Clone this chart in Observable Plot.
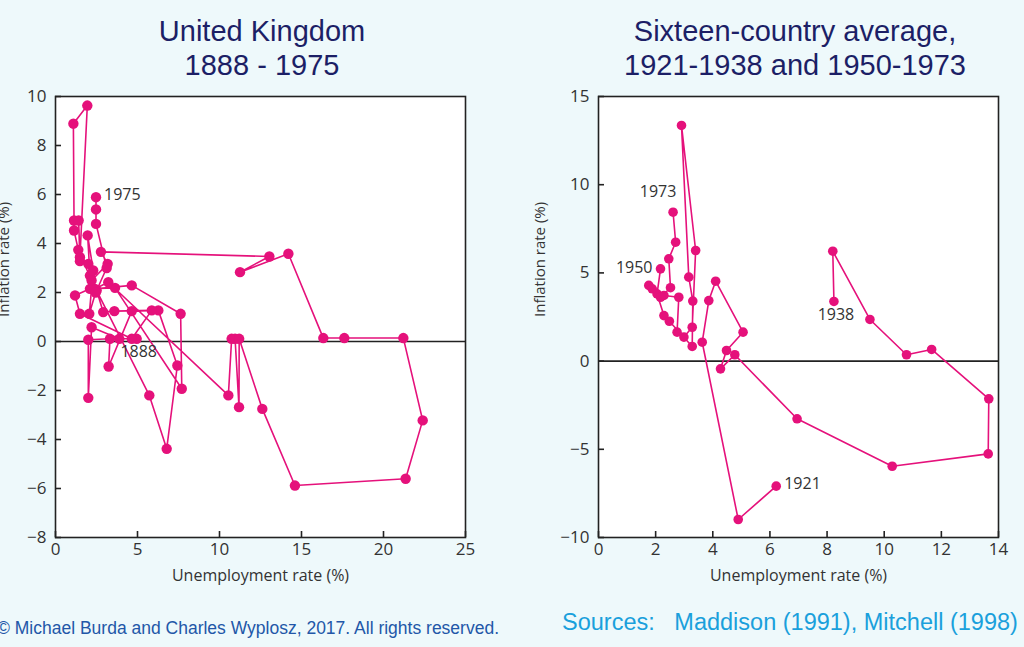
<!DOCTYPE html>
<html>
<head>
<meta charset="utf-8">
<script src="https://cdn.jsdelivr.net/npm/d3@7"></script>
<script src="https://cdn.jsdelivr.net/npm/@observablehq/plot@0.6"></script>
<style>
  html, body { margin: 0; padding: 0; }
  body { width: 1024px; height: 647px; background: #eef9fb; position: relative; overflow: hidden; font-family: "Liberation Sans", Arial, sans-serif; }
  .title { position: absolute; text-align: center; color: #1c1f66; font-size: 29px; line-height: 34px; white-space: nowrap; }
  .chart { position: absolute; }
  .foot1 { position: absolute; left: -3px; top: 618px; font-size: 17.5px; color: #2257a8; white-space: nowrap; }
  .foot2 { position: absolute; left: 562px; top: 609px; font-size: 23.5px; color: #1aa0dc; white-space: pre; }
</style>
</head>
<body>
<div class="title" style="left:62px; width:400px; top:14px;">United Kingdom<br>1888 - 1975</div>
<div class="title" style="left:575px; width:440px; top:14px;">Sixteen-country average,<br>1921-1938 and 1950-1973</div>
<div class="chart" id="left" style="left:0px; top:86px;"></div>
<div class="chart" id="right" style="left:540px; top:86px;"></div>
<div class="foot1">© Michael Burda and Charles Wyplosz, 2017. All rights reserved.</div>
<div class="foot2">Sources:   Maddison (1991), Mitchell (1998)</div>
<script>
// ---------- United Kingdom 1888-1975 (path order) ----------
const ukUnemp = [
  4.95, 3.89, 2.2, 2.0, 2.0, 3.32, 3.24, 4.65, 6.27, 7.43, 6.78, 5.72, 2.51, 2.91, 3.59, 5.87, 4.65, 1.49, 1.19, 2.1, 3.63, 7.7, 7.63, 4.65, 2.41, 3.22,
  10.54, 10.74, 10.95, 11.19, 11.2, 12.61, 14.6, 21.35, 22.39, 21.21, 17.61, 16.33, 14.2, 11.25, 13.04,
  2.77, 3.18, 2.2, 1.39, 1.13, 1.13, 1.09, 1.94, 1.49, 1.41, 1.49, 2.0, 2.1, 1.96, 2.3, 2.06, 2.45, 3.12, 2.47, 2.47, 2.47
];
const ukInfl = [
  0.11, 0.11, 0.58, -2.3, 0.07, 0.11, -1.02, 1.24, 1.27, -0.98, -4.38, -2.2, 2.08, 1.2, 1.24, 1.27, 0.11, 1.13, 1.88, 2.15, 2.19, -1.93, 1.13, 2.29, 2.15, 2.42,
  -2.2, 0.11, 0.11, -2.68, 0.11, -2.75, -5.88, -5.6, -3.22, 0.14, 0.14, 0.14, 3.58, 2.83, 3.47,
  3.66, 3.17, 2.49, 3.74, 4.53, 4.94, 8.89, 9.63, 3.44, 4.94, 3.28, 3.17, 2.69, 4.33, 2.9, 1.13, 2.0, 3.0, 4.80, 5.39, 5.89
];
const ukLabels = ["1888", "1975"];            // first and last year
const ukXTicks = [0, 5, 10, 15, 20, 25];
const ukYTicks = [-8, -6, -4, -2, 0, 2, 4, 6, 8, 10];

// ---------- Sixteen-country average ----------
const avgPeriods = ["1921-1938", "1950-1973"];
const avgUnemp1 = [6.22, 4.89, 3.63, 3.86, 4.10, 5.06, 4.48, 4.27, 4.77, 6.95, 10.28, 13.64, 13.66, 11.66, 10.78, 9.50, 8.20, 8.24];
const avgInfl1  = [-7.09, -8.98, 1.07, 3.43, 4.53, 1.64, 0.6, -0.44, 0.36, -3.27, -5.96, -5.26, -2.14, 0.66, 0.36, 2.36, 6.23, 3.38];
const avgUnemp2 = [2.17, 2.05, 2.29, 2.48, 3.28, 3.30, 3.16, 2.905, 3.40, 3.28, 2.99, 2.75, 2.81, 2.29, 1.76, 1.88, 2.17, 2.52, 2.46, 2.70, 2.61];
const avgInfl2  = [5.23, 3.81, 2.58, 2.26, 0.83, 3.40, 4.76, 13.36, 6.27, 1.92, 1.36, 1.64, 3.62, 3.72, 4.29, 4.1, 3.62, 4.16, 5.8, 6.74, 8.44];
const avgLabels = ["1921", "1938", "1950", "1973"];
const avgXTicks = [0, 2, 4, 6, 8, 10, 12, 14];
const avgYTicks = [-10, -5, 0, 5, 10, 15];

const xLabel = "Unemployment rate (%)";
const yLabel = "Inflation rate (%)";
const pink = "#e5117b";
const ink = "#333";

const uk = ukUnemp.map((u, i) => ({u, p: ukInfl[i]}));
const avg = [
  ...avgUnemp1.map((u, i) => ({u, p: avgInfl1[i], period: avgPeriods[0]})),
  ...avgUnemp2.map((u, i) => ({u, p: avgInfl2[i], period: avgPeriods[1]}))
];
const ukLab = [
  {...uk[0], t: ukLabels[0], pos: "below"},
  {...uk[uk.length - 1], t: ukLabels[1], pos: "right"}
];
const s1 = avg.filter(d => d.period === avgPeriods[0]);
const s2 = avg.filter(d => d.period === avgPeriods[1]);
const avgLab = [
  {...s1[0], t: avgLabels[0], pos: "right"},
  {...s1[s1.length - 1], t: avgLabels[1], pos: "below"},
  {...s2[0], t: avgLabels[2], pos: "left"},
  {...s2[s2.length - 1], t: avgLabels[3], pos: "aboveleft"}
];

function labelMarks(data) {
  const base = {x: "u", y: "p", text: "t", fill: ink, fontSize: 16, fontFamily: "Open Sans"};
  return [
    Plot.text(data.filter(d => d.pos === "right"), {...base, textAnchor: "start", dx: 8, dy: -2}),
    Plot.text(data.filter(d => d.pos === "left"), {...base, textAnchor: "end", dx: -8, dy: -1}),
    Plot.text(data.filter(d => d.pos === "below"), {...base, textAnchor: "middle", dx: 2, dy: 13}),
    Plot.text(data.filter(d => d.pos === "aboveleft"), {...base, textAnchor: "middle", dx: -15, dy: -20})
  ];
}

function makeChart({data, xDomain, yDomain, xTicks, yTicks, marginLeft, marginRight, r, z, labels, yLabelDx}) {
  const frameW = 480 - marginLeft - marginRight;
  const frameH = 520 - 10 - 69;
  return Plot.plot({
    width: 480, height: 520,
    marginLeft, marginRight, marginTop: 10, marginBottom: 69,
    x: {domain: xDomain},
    y: {domain: yDomain},
    style: {background: "transparent", fontSize: "17px", fontFamily: "Open Sans", color: ink, overflow: "visible"},
    marks: [
      Plot.frame({fill: "white", stroke: null}),
      Plot.ruleY([0], {stroke: "#222", strokeWidth: 1.6}),
      Plot.line(data, {x: "u", y: "p", z, stroke: pink, strokeWidth: 1.6}),
      Plot.dot(data, {x: "u", y: "p", r, fill: pink, stroke: null}),
      ...labelMarks(labels),
      // short inward tick marks
      Plot.tickX(xTicks, {x: d => d, stroke: "#222", strokeWidth: 1.6, insetTop: frameH - 6}),
      Plot.tickY(yTicks, {y: d => d, stroke: "#222", strokeWidth: 1.6, insetRight: frameW - 6}),
      Plot.axisX({ticks: xTicks, tickSize: 0, tickPadding: 5, tickFormat: d => d3.format("")(d), label: null, fontSize: 17}),
      Plot.axisY({ticks: yTicks, tickSize: 0, tickPadding: 9, tickFormat: d => d3.format("")(d), label: null, fontSize: 17}),
      Plot.frame({stroke: "#222", strokeWidth: 1.6}),
      Plot.text([xLabel], {frameAnchor: "bottom", dy: 43, fill: ink, fontSize: 16, fontFamily: "Open Sans"}),
      Plot.text([yLabel], {frameAnchor: "left", dx: yLabelDx, rotate: -90, fill: ink, fontSize: 15, fontFamily: "Open Sans"})
    ]
  });
}

document.getElementById("left").append(makeChart({
  data: uk, xDomain: [0, 25], yDomain: [-8, 10], xTicks: ukXTicks, yTicks: ukYTicks,
  marginLeft: 55, marginRight: 15, r: 5.2, z: null, labels: ukLab, yLabelDx: -51
}));
document.getElementById("right").append(makeChart({
  data: avg, xDomain: [0, 14], yDomain: [-10, 15], xTicks: avgXTicks, yTicks: avgYTicks,
  marginLeft: 58, marginRight: 22, r: 4.8, z: "period", labels: avgLab, yLabelDx: -58
}));
</script>
</body>
</html>
